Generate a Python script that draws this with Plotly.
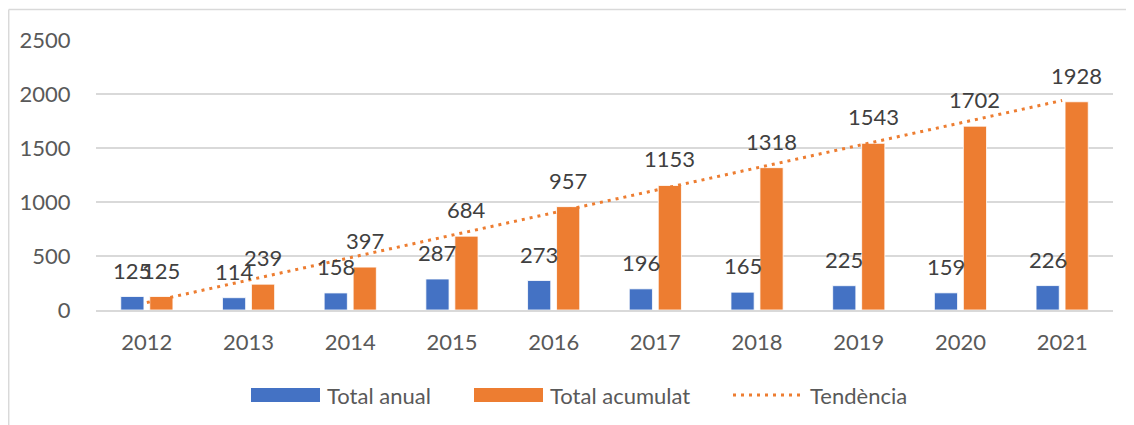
import plotly.graph_objects as go

years = ["2012", "2013", "2014", "2015", "2016", "2017", "2018", "2019", "2020", "2021"]
total_anual = [125, 114, 158, 287, 273, 196, 165, 225, 159, 226]
total_acumulat = [125, 239, 397, 684, 957, 1153, 1318, 1543, 1702, 1928]
trend_x = ["2012", "2021"]
trend_y = [69, 1940]

BLUE = "#4472C4"
ORANGE = "#ED7D31"
GRID = "#D9D9D9"
FONT = "Lato"
DOTS = "3px,5px"

fig = go.Figure()
fig.add_trace(go.Bar(x=years, y=total_anual, name="Total anual",
                     marker=dict(color=BLUE, line=dict(color="white", width=0.8))))
fig.add_trace(go.Bar(x=years, y=total_acumulat, name="Total acumulat",
                     marker=dict(color=ORANGE, line=dict(color="white", width=0.8))))
fig.add_trace(go.Scatter(x=trend_x, y=trend_y, mode="lines", name="Tendència",
                         line=dict(color=ORANGE, width=3, dash=DOTS)))

# data labels above each bar (annotations on a category axis take the category index)
shift = 14.5
for i, (a, b) in enumerate(zip(total_anual, total_acumulat)):
    for val, dx in ((a, -shift), (b, shift)):
        fig.add_annotation(x=i, y=val, text=str(val), showarrow=False,
                           xshift=dx, yshift=11, yanchor="bottom",
                           font=dict(family=FONT, size=22, color="#404040"))

# the page has an 8px body margin, so the figure is 8px smaller than the window
OFF = 8
l, w, base, h = 96 - OFF, 1017, 310 - OFF, 270


def px_x(p):
    return (p - OFF - l) / w


def px_y(p):
    return (base - (p - OFF)) / h


# hand-drawn legend to get the wide Excel-style keys
leg_y = px_y(395)
items = [(251, 327, "Total anual", BLUE, "rect"),
         (474, 550, "Total acumulat", ORANGE, "rect"),
         (733, 810, "Tendència", ORANGE, "dot")]
for kx, tx, label, col, kind in items:
    x0, x1 = px_x(kx), px_x(kx + 69)
    if kind == "rect":
        fig.add_shape(type="rect", xref="paper", yref="paper", x0=x0, x1=x1,
                      y0=px_y(402), y1=px_y(388), fillcolor=col, line=dict(width=0))
    else:
        fig.add_shape(type="line", xref="paper", yref="paper", x0=x0, x1=x1,
                      y0=leg_y, y1=leg_y, line=dict(color=col, width=3, dash=DOTS))
    fig.add_annotation(xref="paper", yref="paper", x=px_x(tx - 2), y=leg_y,
                       xanchor="left", yanchor="middle", text=label, showarrow=False,
                       font=dict(family=FONT, size=22, color="#595959"))

# chart frame (only left and top edges visible)
top, left = px_y(9.5), px_x(8.7)
fig.add_shape(type="line", xref="paper", yref="paper", x0=left, x1=1.2,
              y0=top, y1=top, line=dict(color=GRID, width=1.5))
fig.add_shape(type="line", xref="paper", yref="paper", x0=left, x1=left,
              y0=-0.6, y1=top, line=dict(color=GRID, width=1.5))

fig.update_layout(
    width=1134 - OFF, height=425 - OFF,
    margin=dict(l=l, r=1134 - OFF - l - w, t=40 - OFF, b=425 - OFF - base),
    paper_bgcolor="white", plot_bgcolor="white",
    barmode="group", bargap=0.43, bargroupgap=0.2,
    showlegend=False,
    font=dict(family=FONT, size=22, color="#595959"),
    xaxis=dict(type="category", range=[-0.5, 9.5], showgrid=False, showline=True,
               linecolor=GRID, linewidth=1.5,
               ticks="outside", ticklen=12, tickcolor="rgba(0,0,0,0)",
               tickfont=dict(size=22, color="#595959")),
    yaxis=dict(range=[0, 2500], dtick=500, showgrid=True, gridcolor=GRID, gridwidth=1.5,
               zeroline=False, showline=False, ticks="outside", ticklen=20,
               tickcolor="rgba(0,0,0,0)", tickfont=dict(size=22, color="#595959")),
)
for tr in fig.data:
    tr.cliponaxis = False

fig.write_html("out.html")
